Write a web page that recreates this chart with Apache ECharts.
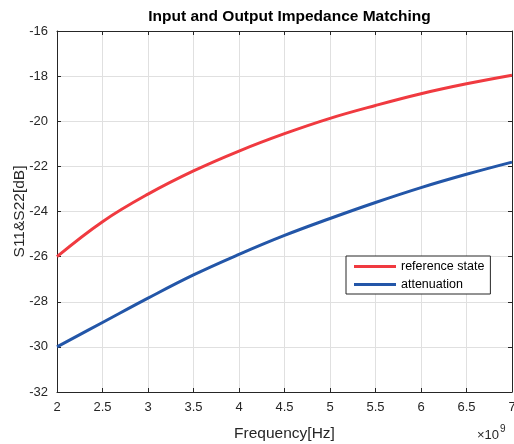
<!DOCTYPE html>
<html>
<head>
<meta charset="utf-8">
<script src="https://cdn.jsdelivr.net/npm/echarts@6/dist/echarts.min.js"></script>
<style>
html,body{margin:0;padding:0;background:#fff;}
#chart{width:514px;height:444px;}
</style>
</head>
<body>
<div id="chart"></div>
<script>
// Frequency in units of 1e9 Hz
const freqs = [2, 2.5, 3, 3.5, 4, 4.5, 5, 5.5, 6, 6.5, 7];
const referenceState = [-26.0, -24.45, -23.23, -22.2, -21.32, -20.55, -19.87, -19.3, -18.78, -18.34, -17.96];
const attenuation = [-30.0, -28.92, -27.84, -26.81, -25.9, -25.06, -24.31, -23.6, -22.94, -22.35, -21.81];
const seriesNames = ['reference state', 'attenuation'];
const xTicks = [2, 2.5, 3, 3.5, 4, 4.5, 5, 5.5, 6, 6.5, 7];
const yTicks = [-32, -30, -28, -26, -24, -22, -20, -18, -16];

const font = 'Liberation Sans, Arial, Helvetica, sans-serif';
const axisColor = '#262626';
const gridColor = '#e0e0e0';

const chart = echarts.init(document.getElementById('chart'), null, {renderer: 'canvas'});

function pairs(xs, ys) { return xs.map((x, i) => [x, ys[i]]); }

const common = {
  axisLine: {show: true, onZero: false, lineStyle: {color: axisColor, width: 1}},
  axisTick: {show: true, inside: true, length: 4, lineStyle: {color: axisColor}},
  minorTick: {show: false}
};

chart.setOption({
  animation: false,
  backgroundColor: '#ffffff',
  title: {
    text: 'Input and Output Impedance Matching',
    left: 284.5, textAlign: 'center', top: 4,
    textStyle: {fontFamily: font, fontSize: 15.5, fontWeight: 'bold', color: '#000'}
  },
  grid: {left: 57, right: 2, top: 31, bottom: 52, containLabel: false, outerBoundsMode: 'none'},
  legend: {
    orient: 'vertical', left: 346, top: 256,
    padding: [4, 6, 3, 8], itemGap: 5,
    backgroundColor: '#fff', borderColor: axisColor, borderWidth: 1,
    itemWidth: 42, itemHeight: 3, itemStyle: {borderWidth: 0},
    textStyle: {fontFamily: font, fontSize: 12.5, lineHeight: 13, color: '#000'},
    data: [
      {name: seriesNames[0], icon: 'rect'},
      {name: seriesNames[1], icon: 'rect'}
    ]
  },
  xAxis: [{
    type: 'value', min: 2, max: 7, interval: 0.5,
    name: 'Frequency[Hz]', nameLocation: 'middle', nameGap: 34,
    nameTextStyle: {fontFamily: font, fontSize: 15.5, color: axisColor},
    axisLabel: {fontFamily: font, fontSize: 13, color: axisColor, margin: 9,
      formatter: v => xTicks.includes(v) ? String(v) : ''},
    splitLine: {show: true, lineStyle: {color: gridColor, width: 1}},
    ...common
  }, {
    type: 'value', min: 2, max: 7, interval: 0.5, position: 'top',
    axisLabel: {show: false}, splitLine: {show: false},
    ...common
  }],
  yAxis: [{
    type: 'value', min: -32, max: -16, interval: 2,
    name: 'S11&S22[dB]', nameLocation: 'middle', nameGap: 29, nameMoveOverlap: false,
    nameTextStyle: {fontFamily: font, fontSize: 15.5, color: axisColor},
    axisLabel: {fontFamily: font, fontSize: 13, color: axisColor, margin: 9,
      formatter: v => yTicks.includes(v) ? String(v) : ''},
    splitLine: {show: true, lineStyle: {color: gridColor, width: 1}},
    ...common
  }, {
    type: 'value', min: -32, max: -16, interval: 2, position: 'right',
    axisLabel: {show: false}, splitLine: {show: false},
    ...common
  }],
  graphic: [{
    type: 'text', left: 477, top: 424,
    style: {
      text: '{a|×10}{b|9}',
      rich: {
        a: {fontFamily: font, fontSize: 13, fill: axisColor, verticalAlign: 'bottom'},
        b: {fontFamily: font, fontSize: 10, fill: axisColor, verticalAlign: 'top', padding: [0, 0, 8, 1]}
      }
    }
  }],
  series: [{
    name: seriesNames[0], type: 'line', smooth: 0.4, showSymbol: false,
    data: pairs(freqs, referenceState),
    lineStyle: {color: '#f03a40', width: 3}, itemStyle: {color: '#f03a40'}
  }, {
    name: seriesNames[1], type: 'line', smooth: 0.4, showSymbol: false,
    data: pairs(freqs, attenuation),
    lineStyle: {color: '#2356a8', width: 3}, itemStyle: {color: '#2356a8'}
  }]
});
</script>
</body>
</html>
